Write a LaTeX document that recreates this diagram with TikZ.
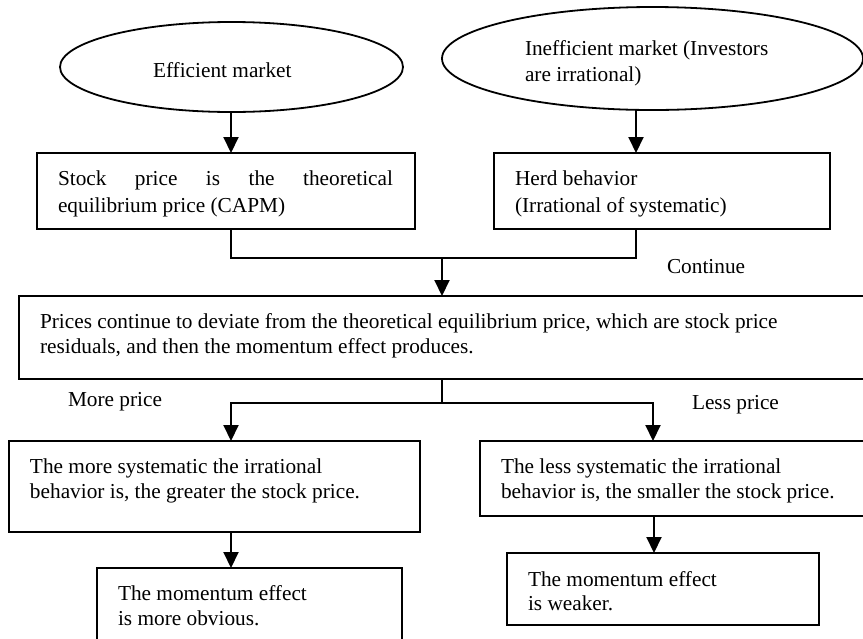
\documentclass[tikz,border=0pt]{standalone}
\usepackage{fontspec}
\setmainfont{Liberation Serif}
\usetikzlibrary{arrows.meta,shapes.geometric}
\begin{document}
\begin{tikzpicture}[x=1pt,y=-1pt,
  font=\fontsize{21.3}{25}\selectfont,
  boxst/.style={draw, line width=1.8pt, rectangle, inner sep=0pt, outer sep=0pt},
  ellst/.style={draw, line width=1.8pt, ellipse, inner sep=0pt, outer sep=0pt},
  txt/.style={anchor=base west, inner sep=0pt, outer sep=0pt},
  arr/.style={line width=2pt, -{Triangle[length=16pt,width=15pt]}},
  joinln/.style={line width=1.2pt},
  branchln/.style={line width=1.9pt}]
\useasboundingbox (0,0) rectangle (863,638);
% shapes
\node[ellst, minimum width=343pt, minimum height=90pt] (e1) at (231.5,67) {};
\node[ellst, minimum width=421pt, minimum height=103pt] (e2) at (652.5,58.5) {};
\node[boxst, minimum width=378pt, minimum height=76pt] (b1) at (226,191) {};
\node[boxst, minimum width=336pt, minimum height=76pt] (b2) at (662,191) {};
\node[boxst, minimum width=846pt, minimum height=83pt] (b3) at (442,337.5) {};
\node[boxst, minimum width=411pt, minimum height=91pt] (b4) at (214.5,486.5) {};
\node[boxst, minimum width=385pt, minimum height=75pt] (b5) at (672.5,478.5) {};
\node[boxst, minimum width=305pt, minimum height=80pt] (b6) at (249.5,608) {};
\node[boxst, minimum width=312pt, minimum height=72pt] (b7) at (663,589) {};
% texts
\node[txt] (t1) at (153,77) {Efficient market};
\node[txt] (t2a) at (525,55) {Inefficient market (Investors};
\node[txt] (t2b) at (525,81) {are irrational)};
\node[txt] (t3a) at (58,185) {\makebox[335pt][s]{Stock price is the theoretical}};
\node[txt] (t3b) at (58,212) {equilibrium price (CAPM)};
\node[txt] (t4a) at (515,185) {Herd behavior};
\node[txt] (t4b) at (515,212) {(Irrational of systematic)};
\node[txt] (tc) at (667,273) {Continue};
\node[txt] (t5a) at (40,328) {Prices continue to deviate from the theoretical equilibrium price, which are stock price};
\node[txt] (t5b) at (40,353) {residuals, and then the momentum effect produces.};
\node[txt] (tm) at (68,406) {More price};
\node[txt] (tl) at (692,409) {Less price};
\node[txt] (t6a) at (30,473) {The more systematic the irrational};
\node[txt] (t6b) at (30,498) {behavior is, the greater the stock price.};
\node[txt] (t7a) at (501,473) {The less systematic the irrational};
\node[txt] (t7b) at (501,498) {behavior is, the smaller the stock price.};
\node[txt] (t8a) at (118,600) {The momentum effect};
\node[txt] (t8b) at (118,625) {is more obvious.};
\node[txt] (t9a) at (528,586) {The momentum effect};
\node[txt] (t9b) at (528,610) {is weaker.};
% junction coordinates
\coordinate (a1) at (231,0);
\coordinate (a2) at (636,0);
\coordinate (j1) at (231,258);
\coordinate (j2) at (636,258);
\coordinate (jm) at (442,258);
\coordinate (k) at (442,403);
\coordinate (kl) at (231,403);
\coordinate (kr) at (653,403);
\coordinate (a3) at (654,0);
% connectors
\draw[arr] (e1.south -| a1) -- (b1.north -| a1);
\draw[arr] (e2.south -| a2) -- (b2.north -| a2);
\draw[joinln] (b1.south -| j1) -- (j1) -- (j2) -- (b2.south -| j2);
\draw[arr] (jm) -- (b3.north -| jm);
\draw[branchln] (b3.south -| k) -- (k);
\draw[arr] (k) -- (kl) -- (b4.north -| kl);
\draw[arr] (k) -- (kr) -- (b5.north -| kr);
\draw[arr] (b4.south -| kl) -- (b6.north -| kl);
\draw[arr] (b5.south -| a3) -- (b7.north -| a3);
\end{tikzpicture}
\end{document}
